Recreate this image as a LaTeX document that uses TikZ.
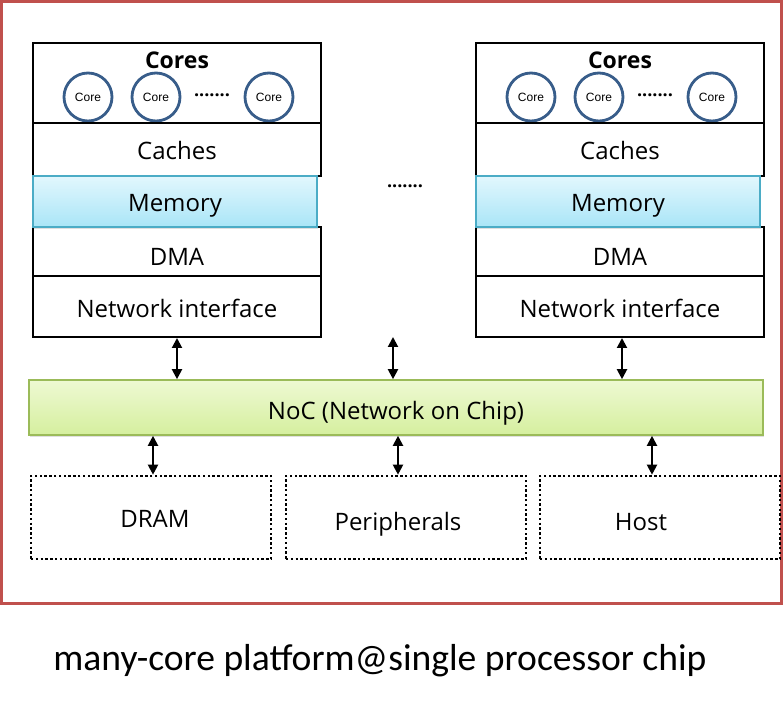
\documentclass[tikz,border=0pt]{standalone}
\usepackage{fontspec}
\setmainfont{Open Sans}
\newfontfamily\corefont{Liberation Sans}
\newfontfamily\capfont{Carlito}
\usepackage{tikz}
\usetikzlibrary{arrows.meta,positioning,shadows}

\definecolor{chipred}{HTML}{C0504D}
\definecolor{coreblue}{HTML}{385D8A}
\definecolor{memedge}{HTML}{4BACC6}
\definecolor{memtop}{HTML}{E2F7FD}
\definecolor{membot}{HTML}{A9E5F7}
\definecolor{nocedge}{HTML}{9BBB59}
\definecolor{noctop}{HTML}{EEF9D3}
\definecolor{nocbot}{HTML}{D5EF9E}

\tikzset{
	layer/.style={draw,line width=1pt,minimum width=144pt,inner sep=0pt,
		text height=9.6pt,text depth=0pt,font=\fontsize{12}{14}\selectfont},
	memlayer/.style={layer,draw=memedge,line width=1.2pt,minimum width=142pt,
		top color=memtop,bottom color=membot,
		drop shadow={opacity=0.25,shadow xshift=0.6pt,shadow yshift=-1pt}},
	corenode/.style={circle,draw=coreblue,line width=1.4pt,minimum size=24pt,
		inner sep=0pt,font=\corefont\fontsize{6}{7}\selectfont},
	offchip/.style={draw,line width=1.3pt,dash pattern=on 1.2pt off 1.2pt,
		minimum width=120pt,minimum height=41.5pt,inner sep=0pt},
	offtext/.style={inner sep=0pt,text height=13.1pt,text depth=0pt,
		font=\fontsize{12}{14}\selectfont},
	biarrow/.style={{Triangle[width=5pt,length=5pt]}-{Triangle[width=5pt,length=5pt]},line width=1pt},
}

\begin{document}
\begin{tikzpicture}[x=0.5pt,y=-0.5pt]
	\useasboundingbox (0,0) rectangle (783,705);
	\draw[color=chipred,line width=1.5pt] (1.5,1.5) rectangle (781.5,603.5);

	% processor tiles
	\foreach \s/\cx in {l/177,r/620}
	{
		\node[layer,minimum height=40pt] (cores\s) at (\cx,83) {};
		\node[font=\bfseries\fontsize{11.5}{13}\selectfont] at (\cx,60) {Cores};
		\node[corenode] (corea\s) at (\cx-89,97) {Core};
		\node[corenode] (coreb\s) at (\cx-21,97) {Core};
		\node[corenode] (corec\s) at (\cx+92,97) {Core};
		\node[font=\bfseries\fontsize{9}{10}\selectfont] at (\cx+35,95) {.......};
		\node[layer,minimum height=26.5pt] (caches\s) at (\cx,149.5) {Caches};
		\node[layer,minimum height=24.5pt,text height=13.6pt] (dma\s) at (\cx,251.5) {DMA};
		\node[layer,minimum height=30.5pt,text height=11.1pt] (ni\s) at (\cx,306.5) {Network interface};
		\node[memlayer,minimum height=25.5pt] (mem\s) at (\cx-2,201.5) {Memory};
	}
	\node[font=\bfseries\fontsize{9}{10}\selectfont] (dots) at (405,186) {.......};

	% on-chip network
	\node[draw=nocedge,line width=0.8pt,top color=noctop,bottom color=nocbot,
		minimum width=367pt,minimum height=27.5pt,inner sep=0pt,
		text height=12.1pt,text depth=0pt,
		drop shadow={opacity=0.25,shadow xshift=0.6pt,shadow yshift=-1pt},
		font=\fontsize{12}{14}\selectfont] (noc) at (396,407.5) {NoC (Network on Chip)};
	\coordinate (midtile) at (393,337);

	\node[offchip,label={[offtext,xshift=2pt,text height=9.6pt]center:DRAM}] (dram) at (151,517.5) {};
	\node[offchip,label={[offtext,xshift=-4pt]center:Peripherals}] (periph) at (406,517.5) {};
	\node[offchip,label={[offtext,xshift=-9.5pt]center:Host}] (host) at (660,517.5) {};

	\draw[biarrow] (nil.south) -- (nil.south |- noc.north);
	\draw[biarrow] (midtile) -- (midtile |- noc.north);
	\draw[biarrow] ([xshift=1pt]nir.south) -- ([xshift=1pt]nir.south |- noc.north);
	\draw[biarrow] ([xshift=1pt]dram.north |- noc.south) -- ([xshift=1pt]dram.north);
	\draw[biarrow] ([xshift=-4pt]periph.north |- noc.south) -- ([xshift=-4pt]periph.north);
	\draw[biarrow] ([xshift=-4pt]host.north |- noc.south) -- ([xshift=-4pt]host.north);

	\node[font=\capfont\fontsize{18.8}{22}\selectfont] (caption) at (380,661)
		{many-core platform@single processor chip};
\end{tikzpicture}
\end{document}
